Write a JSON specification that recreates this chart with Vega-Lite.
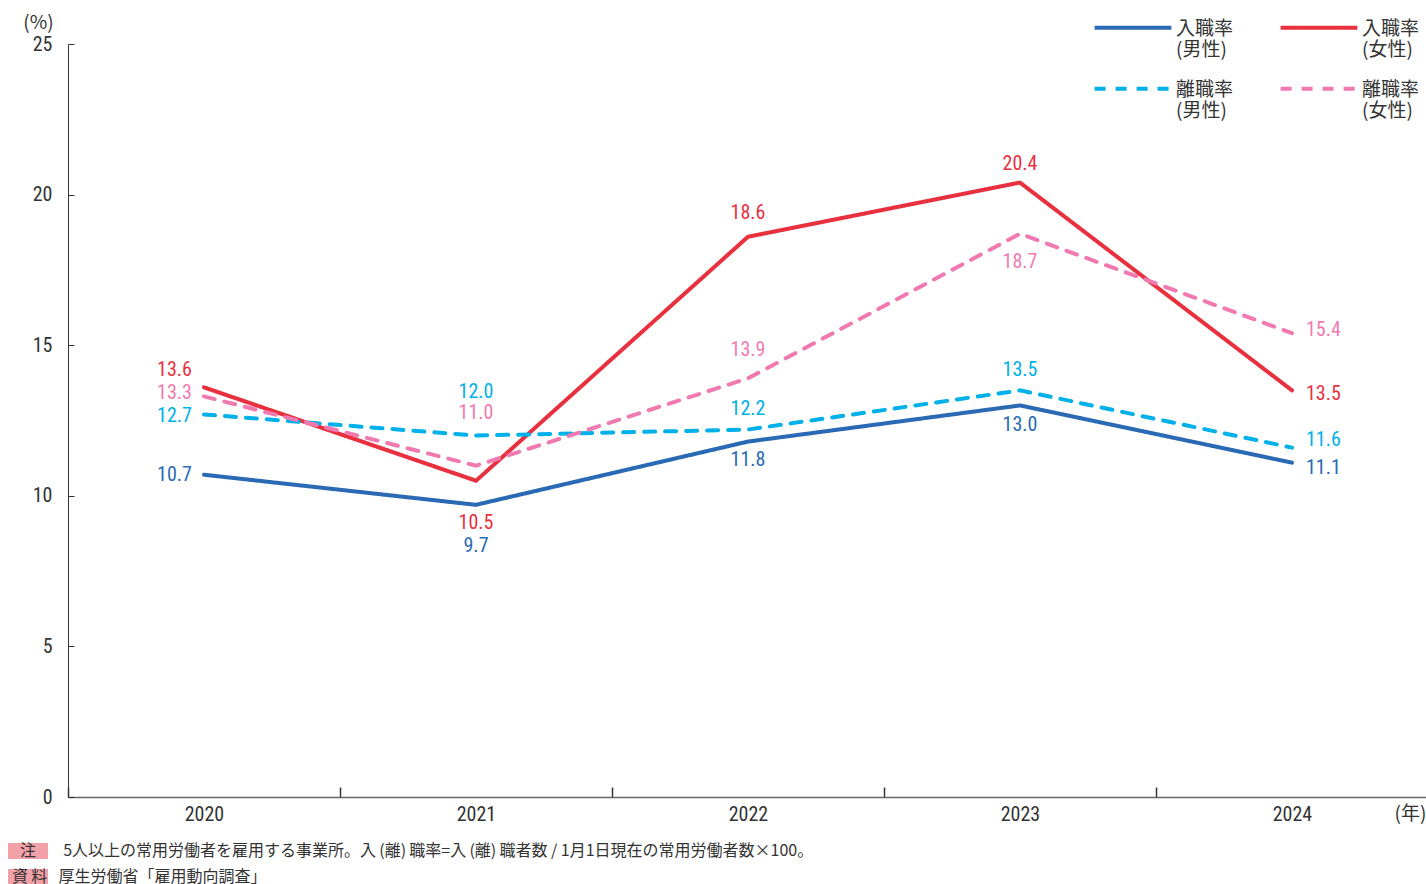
{
  "$schema": "https://vega.github.io/schema/vega-lite/v6.json",
  "width": 1360,
  "height": 753,
  "autosize": {"type": "none"},
  "padding": {"left": 68, "top": 44, "right": 0, "bottom": 87},
  "background": "white",
  "config": {"view": {"stroke": null}, "font": "Noto Sans CJK JP"},
  "datasets": {
    "rates": [
      {"year": "2020", "series": "入職率(男性)", "value": 10.7},
      {"year": "2020", "series": "入職率(女性)", "value": 13.6},
      {"year": "2020", "series": "離職率(男性)", "value": 12.7},
      {"year": "2020", "series": "離職率(女性)", "value": 13.3},
      {"year": "2021", "series": "入職率(男性)", "value": 9.7},
      {"year": "2021", "series": "入職率(女性)", "value": 10.5},
      {"year": "2021", "series": "離職率(男性)", "value": 12.0},
      {"year": "2021", "series": "離職率(女性)", "value": 11.0},
      {"year": "2022", "series": "入職率(男性)", "value": 11.8},
      {"year": "2022", "series": "入職率(女性)", "value": 18.6},
      {"year": "2022", "series": "離職率(男性)", "value": 12.2},
      {"year": "2022", "series": "離職率(女性)", "value": 13.9},
      {"year": "2023", "series": "入職率(男性)", "value": 13.0},
      {"year": "2023", "series": "入職率(女性)", "value": 20.4},
      {"year": "2023", "series": "離職率(男性)", "value": 13.5},
      {"year": "2023", "series": "離職率(女性)", "value": 18.7},
      {"year": "2024", "series": "入職率(男性)", "value": 11.1},
      {"year": "2024", "series": "入職率(女性)", "value": 13.5},
      {"year": "2024", "series": "離職率(男性)", "value": 11.6},
      {"year": "2024", "series": "離職率(女性)", "value": 15.4}
    ],
    "notes": [
      {"note": "\u200b\u2002注\u3000\u2002\u20095人以上の常用労働者を雇用する事業所。入\u2009(離)\u2009職率=入\u2009(離)\u2009職者数 / 1月1日現在の常用労働者数×100。"},
      {"note": "資\u2009料\u2002\u2009厚生労働省「雇用動向調査」"}
    ]
  },
  "layer": [
    {
      "data": {"name": "rates"},
      "mark": {"type": "line", "strokeWidth": 4, "strokeCap": "round"},
      "encoding": {
        "x": {
          "field": "year", "type": "ordinal", "bandPosition": 0.5,
          "scale": {"type": "band", "paddingInner": 0, "paddingOuter": 0},
          "axis": {
            "title": "(年)", "titleX": 1342, "titleY": 16, "titleAlign": "center", "titleBaseline": "middle",
            "titleFont": "Noto Sans CJK JP", "titleFontSize": 19, "titleFontWeight": "normal", "titleColor": "#333",
            "labelAngle": 0, "tickBand": "extent", "tickSize": -10, "tickWidth": 1.5, "tickColor": "#333",
            "labelPadding": 17, "labelFont": "Roboto Condensed, DejaVu Sans Condensed, Roboto, sans-serif", "labelFontSize": 20, "labelColor": "#333",
            "domainColor": "#666", "domainWidth": 1.5, "grid": false
          }
        },
        "y": {
          "field": "value", "type": "quantitative",
          "scale": {"domain": [0, 25], "nice": false, "zero": true},
          "axis": {
            "title": "(%)", "titleAngle": 0, "titleX": -30, "titleY": -22, "titleAlign": "center", "titleBaseline": "middle",
            "titleFont": "Noto Sans CJK JP", "titleFontSize": 19, "titleFontWeight": "normal", "titleColor": "#333",
            "values": [0, 5, 10, 15, 20, 25], "tickSize": -6, "tickColor": "#333", "labelPadding": 22,
            "labelFont": "Roboto Condensed, DejaVu Sans Condensed, Roboto, sans-serif", "labelFontSize": 20, "labelColor": "#333", "labelBaseline": "middle",
            "domainColor": "#333", "grid": false
          }
        },
        "color": {
          "field": "series", "type": "nominal",
          "scale": {"domain": ["入職率(男性)", "入職率(女性)", "離職率(男性)", "離職率(女性)"], "range": ["#2a6ab4", "#e8303f", "#00b0e8", "#f07ab0"]},
          "legend": {
            "title": null, "orient": "none", "legendX": 1047, "legendY": -27, "columns": 2, "direction": "horizontal", "columnPadding": 38, "rowPadding": 18,
            "symbolType": "M-2.4,-0.45H2.4", "symbolSize": 1024, "symbolStrokeWidth": 4, "padding": 0,
            "labelFont": "Noto Sans CJK JP", "labelFontSize": 19, "labelColor": "#333", "labelLineHeight": 24,
            "labelBaseline": "alphabetic", "labelOffset": 25, "labelLimit": 300,
            "labelExpr": "[slice(datum.label, 0, 3), slice(datum.label, 3)]"
          }
        },
        "strokeDash": {
          "field": "series", "type": "nominal",
          "scale": {"domain": ["入職率(男性)", "入職率(女性)", "離職率(男性)", "離職率(女性)"], "range": [[1, 0], [1, 0], [11, 10], [11, 10]]},
          "legend": {
            "title": null, "orient": "none", "legendX": 1047, "legendY": -27, "columns": 2, "direction": "horizontal", "columnPadding": 38, "rowPadding": 18,
            "symbolType": "M-2.4,-0.45H2.4", "symbolSize": 1024, "symbolStrokeWidth": 4, "padding": 0,
            "labelFont": "Noto Sans CJK JP", "labelFontSize": 19, "labelColor": "#333", "labelLineHeight": 24,
            "labelBaseline": "alphabetic", "labelOffset": 25, "labelLimit": 300,
            "labelExpr": "[slice(datum.label, 0, 3), slice(datum.label, 3)]"
          }
        }
      }
    },
    {
      "data": {"name": "rates"},
      "transform": [{"filter": "datum.year == '2020'"}],
      "mark": {
        "type": "text", "align": "right", "baseline": "middle", "dx": -12,
        "font": "Roboto Condensed, DejaVu Sans Condensed, Roboto, sans-serif", "fontSize": 20,
        "dy": {"expr": "datum.series == '入職率(女性)' ? -17 : datum.series == '離職率(女性)' ? -3 : datum.series == '離職率(男性)' ? 2 : 0"}
      },
      "encoding": {
        "x": {"field": "year", "type": "ordinal", "bandPosition": 0.5},
        "y": {"field": "value", "type": "quantitative"},
        "text": {"field": "value", "type": "quantitative", "format": ".1f"},
        "color": {"field": "series", "type": "nominal", "legend": null}
      }
    },
    {
      "data": {"name": "rates"},
      "transform": [{"filter": "datum.year == '2024'"}],
      "mark": {
        "type": "text", "align": "left", "baseline": "middle", "dx": 14,
        "font": "Roboto Condensed, DejaVu Sans Condensed, Roboto, sans-serif", "fontSize": 20,
        "dy": {"expr": "datum.series == '離職率(女性)' ? -3 : datum.series == '入職率(女性)' ? 4 : datum.series == '離職率(男性)' ? -8 : 5"}
      },
      "encoding": {
        "x": {"field": "year", "type": "ordinal", "bandPosition": 0.5},
        "y": {"field": "value", "type": "quantitative"},
        "text": {"field": "value", "type": "quantitative", "format": ".1f"},
        "color": {"field": "series", "type": "nominal", "legend": null}
      }
    },
    {
      "data": {"name": "rates"},
      "transform": [{"filter": "datum.year != '2020' && datum.year != '2024'"}],
      "mark": {
        "type": "text", "align": "center", "baseline": "middle",
        "font": "Roboto Condensed, DejaVu Sans Condensed, Roboto, sans-serif", "fontSize": 20,
        "dy": {"expr": "datum.year == '2021' ? (datum.series == '離職率(男性)' ? -44 : datum.series == '離職率(女性)' ? -53 : datum.series == '入職率(女性)' ? 42 : 41) : datum.year == '2022' ? (datum.series == '入職率(女性)' ? -24 : datum.series == '離職率(女性)' ? -28 : datum.series == '離職率(男性)' ? -21 : 18) : (datum.series == '入職率(女性)' ? -19 : datum.series == '離職率(女性)' ? 28 : datum.series == '離職率(男性)' ? -20 : 20)"}
      },
      "encoding": {
        "x": {"field": "year", "type": "ordinal", "bandPosition": 0.5},
        "y": {"field": "value", "type": "quantitative"},
        "text": {"field": "value", "type": "quantitative", "format": ".1f"},
        "color": {"field": "series", "type": "nominal", "legend": null}
      }
    },
    {
      "data": {"name": "notes"},
      "mark": {"type": "point", "filled": true, "color": "#f3a1a9", "opacity": 0},
      "encoding": {
        "shape": {
          "field": "note", "type": "nominal", "sort": null,
          "scale": {"range": ["M-2.5,-1H2.5V1H-2.5Z", "M-2.5,-1H2.5V1H-2.5Z"]},
          "legend": {
            "title": null, "orient": "none", "legendX": -48, "legendY": 799, "padding": 0,
            "symbolSize": 256, "symbolFillColor": "#f3a1a9", "symbolStrokeWidth": 0, "symbolOpacity": 1,
            "labelFont": "Noto Sans CJK JP", "labelFontSize": 16, "labelColor": "#333", "labelLimit": 1300,
            "labelOffset": -24, "rowPadding": 10
          }
        }
      }
    }
  ]
}
